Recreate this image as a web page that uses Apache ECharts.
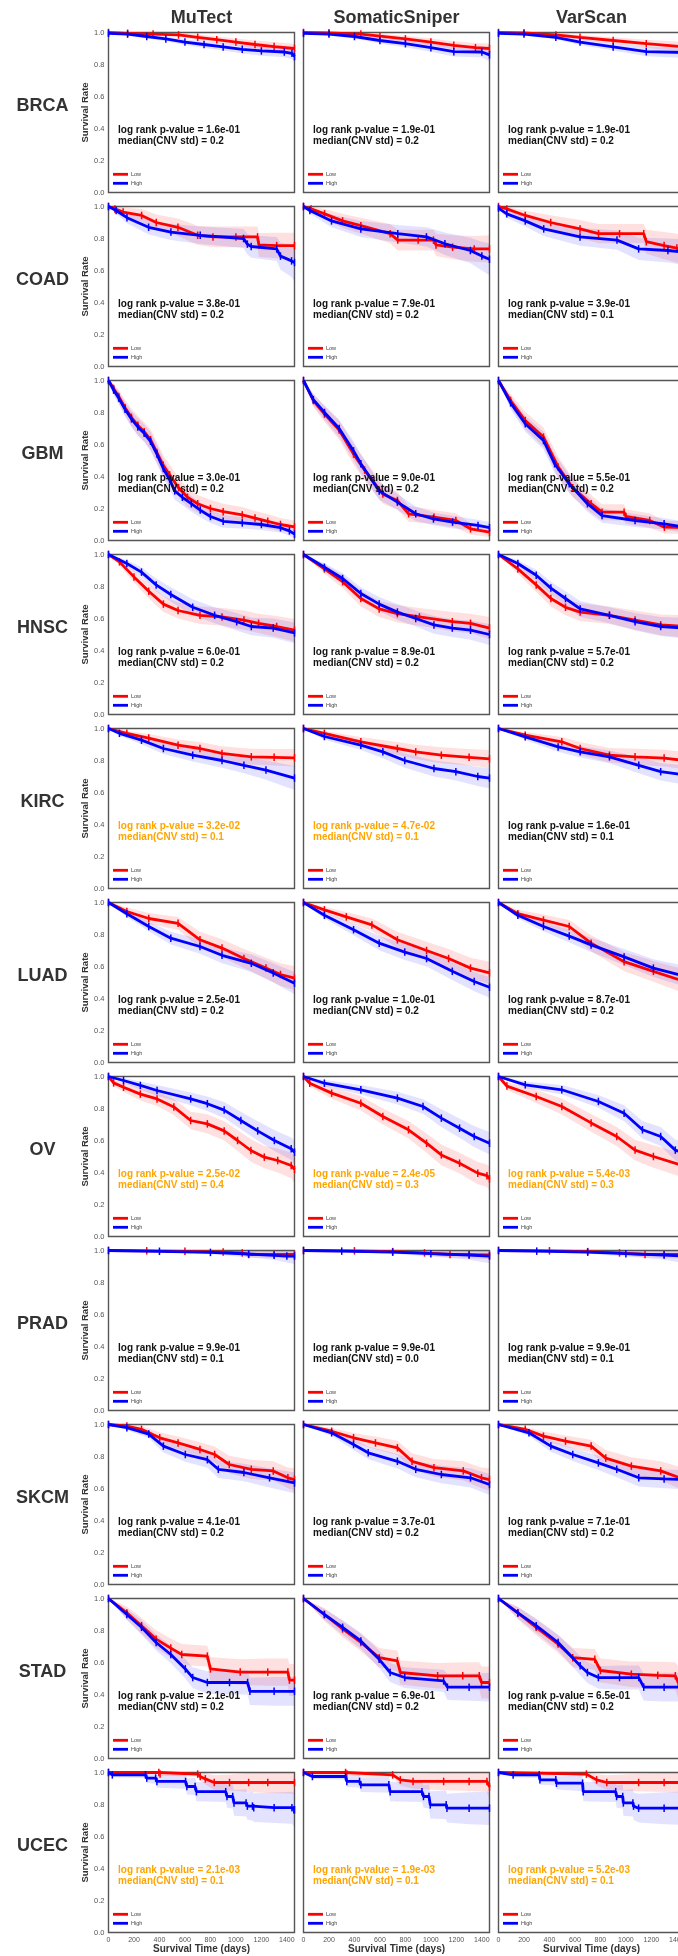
<!DOCTYPE html>
<html>
<head>
<meta charset="utf-8">
<script src="https://cdn.jsdelivr.net/npm/echarts@6/dist/echarts.min.js"></script>
<style>
  body { margin: 0; overflow: hidden; background: #fff; }
  #chart { width: 700px; height: 1956px; }
</style>
</head>
<body>
<div id="chart"></div>
<script>
// each curve point: [time (days), survival, half-width of the confidence band]
const brcaMuTectLow = [[0,1,0],[150,0.995,0.005],[350,0.99,0.01],[550,0.985,0.012],[700,0.97,0.018],[850,0.955,0.02],[1000,0.94,0.022],[1150,0.925,0.025],[1300,0.912,0.028],[1460,0.9,0.03]];
const brcaMuTectHigh = [[0,0.995,0.005],[150,0.99,0.008],[300,0.975,0.012],[450,0.96,0.015],[600,0.94,0.018],[750,0.925,0.02],[900,0.91,0.023],[1050,0.895,0.026],[1200,0.885,0.03],[1380,0.878,0.033],[1440,0.87,0.035],[1460,0.85,0.04]];
const brcaSniperLow = [[0,1,0],[200,0.998,0.004],[450,0.99,0.01],[600,0.977,0.015],[800,0.96,0.02],[1000,0.94,0.022],[1180,0.92,0.026],[1350,0.905,0.03],[1460,0.9,0.032]];
const brcaSniperHigh = [[0,0.995,0.005],[200,0.99,0.008],[400,0.975,0.012],[600,0.95,0.018],[800,0.93,0.022],[1000,0.905,0.026],[1180,0.88,0.03],[1400,0.878,0.034],[1460,0.86,0.04]];
const brcaVarScanLow = [[0,1,0],[200,0.998,0.004],[450,0.985,0.01],[640,0.97,0.015],[900,0.95,0.02],[1160,0.93,0.025],[1460,0.91,0.03]];
const brcaVarScanHigh = [[0,0.995,0.005],[200,0.99,0.008],[450,0.97,0.012],[640,0.94,0.018],[900,0.91,0.023],[1160,0.88,0.028],[1460,0.875,0.035]];

const coadMuTectLow = [[0,1,0],[50,0.985,0.02],[115,0.965,0.03],[260,0.944,0.04],[375,0.9,0.05],[545,0.87,0.055],[700,0.82,0.06],[820,0.81,0.065],[1000,0.81,0.065],[1170,0.81,0.065],[1180,0.76,0.075],[1320,0.756,0.08],[1460,0.756,0.08]];
const coadMuTectHigh = [[0,1,0],[60,0.975,0.02],[145,0.93,0.035],[315,0.87,0.045],[490,0.84,0.05],[720,0.82,0.055],[1060,0.8,0.06],[1090,0.765,0.065],[1120,0.75,0.07],[1320,0.735,0.075],[1350,0.69,0.085],[1437,0.66,0.1],[1460,0.65,0.12]];
const coadSniperLow = [[0,1,0],[60,0.985,0.02],[165,0.954,0.03],[307,0.91,0.045],[450,0.88,0.05],[680,0.83,0.06],[740,0.79,0.065],[900,0.79,0.065],[1020,0.79,0.065],[1040,0.76,0.07],[1170,0.746,0.075],[1340,0.735,0.08],[1460,0.735,0.085]];
const coadSniperHigh = [[0,1,0],[50,0.975,0.02],[220,0.91,0.04],[450,0.86,0.05],[740,0.83,0.055],[965,0.81,0.06],[1110,0.767,0.07],[1310,0.725,0.08],[1400,0.69,0.09],[1460,0.67,0.1]];
const coadVarScanLow = [[0,1,0],[65,0.985,0.015],[210,0.944,0.03],[410,0.9,0.045],[640,0.86,0.055],[785,0.83,0.06],[950,0.83,0.06],[1140,0.83,0.06],[1160,0.78,0.075],[1300,0.756,0.085],[1400,0.74,0.09],[1460,0.71,0.1]];
const coadVarScanHigh = [[0,0.99,0.01],[65,0.954,0.025],[210,0.91,0.035],[355,0.86,0.045],[640,0.81,0.055],[930,0.79,0.06],[1100,0.735,0.07],[1330,0.725,0.075],[1460,0.715,0.08]];

const gbmMuTectLow = [[0,1,0],[40,0.95,0.03],[80,0.9,0.04],[130,0.83,0.05],[180,0.77,0.055],[230,0.72,0.06],[280,0.68,0.06],[330,0.63,0.065],[380,0.55,0.065],[430,0.47,0.065],[480,0.41,0.065],[550,0.33,0.06],[620,0.27,0.06],[700,0.23,0.055],[800,0.2,0.055],[900,0.18,0.05],[1050,0.16,0.05],[1150,0.14,0.045],[1250,0.12,0.045],[1350,0.1,0.04],[1460,0.085,0.04]];
const gbmMuTectHigh = [[0,1,0],[40,0.94,0.03],[80,0.89,0.04],[130,0.82,0.045],[180,0.76,0.05],[230,0.71,0.055],[280,0.67,0.055],[330,0.62,0.06],[380,0.54,0.06],[430,0.45,0.06],[480,0.38,0.06],[520,0.31,0.055],[580,0.27,0.05],[650,0.23,0.05],[720,0.19,0.045],[800,0.15,0.04],[900,0.12,0.04],[1050,0.11,0.035],[1200,0.1,0.035],[1350,0.08,0.03],[1420,0.06,0.03],[1460,0.04,0.03]];
const gbmSniperLow = [[0,1,0],[77,0.875,0.04],[165,0.79,0.05],[280,0.69,0.06],[393,0.54,0.065],[480,0.44,0.065],[623,0.29,0.06],[737,0.25,0.055],[825,0.167,0.05],[1024,0.146,0.045],[1196,0.125,0.045],[1311,0.073,0.035],[1460,0.052,0.03]];
const gbmSniperHigh = [[0,1,0],[77,0.88,0.035],[165,0.8,0.045],[280,0.7,0.055],[393,0.56,0.06],[450,0.48,0.06],[594,0.31,0.055],[737,0.24,0.05],[881,0.167,0.045],[1020,0.135,0.04],[1170,0.115,0.04],[1370,0.094,0.035],[1460,0.08,0.035]];
const gbmVarScanLow = [[0,1,0],[95,0.875,0.04],[210,0.75,0.055],[353,0.646,0.06],[468,0.46,0.065],[583,0.33,0.06],[727,0.23,0.055],[813,0.177,0.05],[986,0.177,0.05],[1000,0.15,0.045],[1187,0.125,0.045],[1302,0.083,0.04],[1460,0.08,0.04]];
const gbmVarScanHigh = [[0,1,0],[95,0.86,0.04],[210,0.73,0.05],[353,0.625,0.055],[440,0.48,0.06],[555,0.354,0.055],[698,0.23,0.05],[813,0.156,0.045],[1072,0.125,0.04],[1300,0.104,0.035],[1460,0.083,0.035]];

const hnscMuTectLow = [[0,1,0],[86,0.954,0.02],[200,0.86,0.035],[316,0.77,0.045],[431,0.69,0.05],[546,0.65,0.05],[718,0.62,0.055],[891,0.61,0.055],[1063,0.59,0.06],[1178,0.57,0.06],[1320,0.55,0.065],[1460,0.527,0.07]];
const hnscMuTectHigh = [[0,1,0],[144,0.944,0.02],[259,0.89,0.03],[374,0.81,0.04],[489,0.75,0.045],[661,0.67,0.05],[833,0.62,0.05],[1006,0.58,0.055],[1121,0.55,0.055],[1293,0.54,0.06],[1460,0.51,0.065]];
const hnscSniperLow = [[0,1,0],[164,0.91,0.03],[307,0.83,0.04],[450,0.725,0.05],[594,0.66,0.05],[737,0.63,0.055],[910,0.61,0.055],[1168,0.58,0.06],[1311,0.57,0.06],[1460,0.54,0.07]];
const hnscSniperHigh = [[0,1,0],[164,0.92,0.025],[307,0.85,0.035],[450,0.756,0.04],[594,0.69,0.045],[737,0.64,0.05],[881,0.6,0.05],[1024,0.56,0.055],[1168,0.54,0.055],[1311,0.527,0.06],[1460,0.5,0.065]];
const hnscVarScanLow = [[0,1,0],[152,0.91,0.03],[296,0.81,0.045],[411,0.725,0.05],[526,0.67,0.05],[641,0.64,0.055],[871,0.62,0.055],[1072,0.59,0.06],[1273,0.56,0.065],[1460,0.55,0.07]];
const hnscVarScanHigh = [[0,1,0],[152,0.944,0.02],[296,0.87,0.035],[411,0.79,0.04],[526,0.725,0.045],[641,0.66,0.05],[871,0.62,0.05],[1072,0.58,0.055],[1273,0.55,0.06],[1460,0.54,0.065]];

const kircMuTectLow = [[0,1,0],[144,0.97,0.015],[316,0.94,0.025],[546,0.896,0.035],[718,0.875,0.04],[891,0.844,0.045],[1121,0.823,0.05],[1300,0.82,0.052],[1460,0.817,0.055]];
const kircMuTectHigh = [[0,1,0],[86,0.97,0.015],[259,0.927,0.025],[431,0.875,0.035],[661,0.833,0.04],[891,0.8,0.045],[1063,0.77,0.05],[1236,0.74,0.06],[1460,0.69,0.075]];
const kircSniperLow = [[0,1,0],[164,0.97,0.015],[450,0.917,0.03],[737,0.875,0.04],[881,0.854,0.045],[1082,0.833,0.05],[1300,0.82,0.052],[1460,0.81,0.055]];
const kircSniperHigh = [[0,1,0],[164,0.95,0.02],[450,0.896,0.03],[623,0.854,0.04],[795,0.8,0.045],[1024,0.75,0.05],[1196,0.73,0.055],[1368,0.7,0.06],[1460,0.69,0.065]];
const kircVarScanLow = [[0,1,0],[210,0.958,0.02],[497,0.917,0.03],[641,0.875,0.04],[871,0.833,0.045],[1072,0.823,0.05],[1300,0.815,0.052],[1460,0.8,0.055]];
const kircVarScanHigh = [[0,1,0],[210,0.948,0.02],[468,0.885,0.03],[641,0.854,0.035],[871,0.823,0.04],[1101,0.77,0.05],[1273,0.73,0.055],[1460,0.71,0.06]];

const luadMuTectLow = [[0,1,0],[144,0.944,0.025],[316,0.9,0.035],[546,0.87,0.04],[718,0.767,0.05],[891,0.715,0.055],[1063,0.65,0.06],[1236,0.59,0.065],[1350,0.55,0.07],[1460,0.527,0.075]];
const luadMuTectHigh = [[0,1,0],[144,0.93,0.02],[316,0.85,0.03],[489,0.777,0.04],[718,0.725,0.045],[891,0.67,0.05],[1121,0.62,0.055],[1293,0.56,0.06],[1460,0.496,0.07]];
const luadSniperLow = [[0,1,0],[164,0.954,0.02],[336,0.91,0.03],[537,0.86,0.04],[737,0.767,0.05],[966,0.7,0.055],[1139,0.65,0.06],[1311,0.59,0.065],[1460,0.56,0.07]];
const luadSniperHigh = [[0,1,0],[164,0.92,0.02],[393,0.83,0.035],[594,0.746,0.045],[795,0.69,0.05],[966,0.65,0.05],[1168,0.57,0.055],[1340,0.506,0.06],[1460,0.47,0.065]];
const luadVarScanLow = [[0,1,0],[152,0.93,0.025],[353,0.89,0.035],[555,0.85,0.04],[727,0.746,0.05],[986,0.63,0.06],[1216,0.57,0.065],[1460,0.506,0.075]];
const luadVarScanHigh = [[0,1,0],[152,0.92,0.02],[353,0.85,0.03],[555,0.79,0.04],[727,0.735,0.045],[986,0.66,0.05],[1216,0.59,0.055],[1460,0.54,0.065]];

const ovMuTectLow = [[0,1,0],[40,0.96,0.02],[118,0.933,0.03],[250,0.89,0.04],[381,0.86,0.045],[513,0.81,0.05],[645,0.725,0.055],[776,0.704,0.06],[908,0.66,0.06],[1013,0.6,0.065],[1118,0.5375,0.07],[1223,0.496,0.07],[1328,0.475,0.075],[1434,0.444,0.08],[1460,0.42,0.085]];
const ovMuTectHigh = [[0,1,0],[118,0.975,0.015],[250,0.944,0.025],[381,0.9125,0.035],[645,0.86,0.04],[776,0.83,0.045],[908,0.79,0.05],[1039,0.725,0.055],[1171,0.66,0.06],[1302,0.6,0.065],[1434,0.548,0.07],[1460,0.527,0.075]];
const ovSniperLow = [[0,1,0],[49,0.958,0.02],[221,0.896,0.035],[450,0.833,0.045],[623,0.75,0.05],[824,0.667,0.055],[966,0.583,0.06],[1082,0.51,0.065],[1225,0.458,0.065],[1368,0.396,0.07],[1440,0.38,0.07],[1460,0.36,0.075]];
const ovSniperHigh = [[0,1,0],[164,0.958,0.02],[450,0.917,0.03],[737,0.865,0.04],[938,0.8125,0.045],[1082,0.74,0.055],[1225,0.677,0.06],[1340,0.625,0.065],[1460,0.583,0.07]];
const ovVarScanLow = [[0,1,0],[66,0.94,0.025],[296,0.875,0.04],[497,0.8125,0.05],[727,0.71,0.055],[928,0.625,0.06],[1072,0.54,0.065],[1216,0.5,0.07],[1460,0.44,0.075]];
const ovVarScanHigh = [[0,1,0],[210,0.948,0.02],[497,0.917,0.03],[784,0.844,0.04],[986,0.77,0.05],[1130,0.667,0.055],[1273,0.625,0.06],[1388,0.54,0.065],[1460,0.52,0.07]];

const pradMuTectLow = [[0,1,0],[300,0.998,0.003],[600,0.995,0.006],[900,0.99,0.01],[1050,0.985,0.015],[1100,0.975,0.02],[1300,0.975,0.022],[1460,0.975,0.025]];
const pradMuTectHigh = [[0,1,0],[400,0.995,0.005],[800,0.988,0.012],[1100,0.978,0.02],[1300,0.97,0.03],[1400,0.965,0.04],[1460,0.965,0.05]];
const pradSniperLow = [[0,1,0],[400,0.998,0.003],[700,0.993,0.007],[950,0.985,0.012],[1150,0.975,0.018],[1300,0.974,0.022],[1460,0.972,0.025]];
const pradSniperHigh = [[0,1,0],[300,0.996,0.004],[700,0.99,0.01],[1000,0.98,0.018],[1300,0.972,0.03],[1460,0.965,0.045]];
const pradVarScanLow = [[0,1,0],[400,0.998,0.003],[700,0.993,0.007],[950,0.985,0.012],[1150,0.975,0.018],[1300,0.975,0.022],[1460,0.975,0.025]];
const pradVarScanHigh = [[0,1,0],[300,0.996,0.004],[700,0.99,0.01],[1000,0.98,0.018],[1300,0.972,0.03],[1460,0.965,0.045]];

const skcmMuTectLow = [[0,1,0],[144,0.99,0.01],[259,0.97,0.02],[402,0.917,0.035],[546,0.885,0.04],[718,0.844,0.045],[833,0.8125,0.05],[948,0.75,0.055],[1121,0.72,0.06],[1293,0.71,0.06],[1408,0.667,0.065],[1460,0.656,0.07]];
const skcmMuTectHigh = [[0,1,0],[144,0.98,0.015],[316,0.94,0.025],[431,0.865,0.04],[603,0.8125,0.045],[776,0.78,0.05],[862,0.72,0.055],[1063,0.7,0.055],[1264,0.667,0.06],[1460,0.635,0.065]];
const skcmSniperLow = [[0,1,0],[221,0.958,0.02],[393,0.917,0.03],[565,0.885,0.04],[737,0.854,0.045],[852,0.77,0.05],[1024,0.73,0.055],[1254,0.71,0.06],[1397,0.667,0.065],[1460,0.656,0.07]];
const skcmSniperHigh = [[0,1,0],[221,0.948,0.02],[393,0.875,0.035],[508,0.823,0.04],[737,0.77,0.045],[881,0.72,0.05],[1082,0.6875,0.055],[1311,0.667,0.06],[1460,0.625,0.065]];
const skcmVarScanLow = [[0,1,0],[210,0.97,0.015],[353,0.927,0.03],[526,0.896,0.035],[727,0.865,0.04],[842,0.79,0.05],[1043,0.74,0.055],[1273,0.71,0.06],[1460,0.656,0.07]];
const skcmVarScanHigh = [[0,1,0],[239,0.948,0.02],[411,0.865,0.035],[583,0.8125,0.04],[784,0.76,0.045],[928,0.72,0.05],[1101,0.667,0.055],[1300,0.66,0.058],[1460,0.656,0.06]];

const stadMuTectLow = [[0,1,0],[144,0.91,0.04],[259,0.83,0.05],[374,0.746,0.055],[489,0.69,0.06],[575,0.65,0.065],[776,0.64,0.065],[800,0.56,0.075],[1034,0.54,0.08],[1250,0.54,0.085],[1408,0.54,0.085],[1420,0.49,0.1],[1460,0.49,0.1]];
const stadMuTectHigh = [[0,1,0],[144,0.9,0.035],[259,0.82,0.045],[374,0.725,0.05],[489,0.65,0.055],[603,0.56,0.06],[661,0.506,0.065],[776,0.475,0.07],[950,0.475,0.075],[1092,0.475,0.075],[1110,0.42,0.085],[1300,0.42,0.09],[1460,0.42,0.09]];
const stadSniperLow = [[0,1,0],[164,0.9,0.04],[307,0.81,0.05],[450,0.725,0.055],[594,0.63,0.06],[737,0.61,0.065],[760,0.5375,0.075],[1053,0.517,0.08],[1250,0.517,0.085],[1380,0.517,0.085],[1397,0.475,0.1],[1460,0.475,0.1]];
const stadSniperHigh = [[0,1,0],[164,0.9,0.035],[307,0.82,0.045],[450,0.735,0.05],[594,0.62,0.055],[680,0.5375,0.06],[795,0.506,0.065],[1100,0.485,0.07],[1130,0.446,0.08],[1300,0.446,0.085],[1460,0.446,0.09]];
const stadVarScanLow = [[0,1,0],[152,0.91,0.04],[296,0.82,0.05],[468,0.715,0.055],[583,0.63,0.06],[756,0.62,0.065],[800,0.55,0.075],[1043,0.527,0.08],[1250,0.52,0.085],[1388,0.517,0.085],[1410,0.475,0.1],[1460,0.475,0.1]];
const stadVarScanHigh = [[0,1,0],[152,0.91,0.035],[296,0.83,0.045],[468,0.725,0.05],[641,0.58,0.06],[698,0.5375,0.065],[784,0.506,0.07],[950,0.506,0.075],[1101,0.506,0.075],[1140,0.446,0.085],[1300,0.446,0.09],[1460,0.446,0.09]];

const ucecMuTectLow = [[0,1,0],[395,1,0.005],[405,0.99,0.01],[700,0.99,0.015],[720,0.975,0.025],[760,0.96,0.035],[830,0.9375,0.045],[950,0.9375,0.05],[1100,0.9375,0.06],[1250,0.9375,0.065],[1460,0.9375,0.07]];
const ucecMuTectHigh = [[0,1,0],[30,0.985,0.015],[290,0.985,0.02],[300,0.965,0.03],[370,0.965,0.035],[380,0.944,0.04],[605,0.944,0.045],[615,0.9125,0.05],[680,0.9125,0.055],[690,0.88,0.06],[920,0.88,0.065],[930,0.85,0.07],[975,0.85,0.075],[985,0.81,0.08],[1080,0.81,0.085],[1090,0.79,0.085],[1130,0.79,0.09],[1140,0.78,0.09],[1300,0.78,0.095],[1440,0.78,0.1],[1455,0.767,0.105],[1460,0.767,0.105]];
const ucecSniperLow = [[0,1,0],[330,1,0.005],[340,0.99,0.01],[700,0.985,0.015],[760,0.954,0.035],[860,0.944,0.045],[1100,0.944,0.055],[1300,0.944,0.06],[1440,0.944,0.065],[1460,0.91,0.08]];
const ucecSniperHigh = [[0,1,0],[70,0.975,0.015],[330,0.975,0.02],[340,0.944,0.035],[440,0.944,0.04],[450,0.923,0.045],[670,0.923,0.05],[680,0.88,0.06],[930,0.88,0.065],[942,0.85,0.07],[985,0.85,0.075],[995,0.798,0.085],[1120,0.798,0.09],[1126,0.777,0.09],[1300,0.777,0.1],[1460,0.777,0.105]];
const ucecVarScanLow = [[0,1,0],[690,0.99,0.01],[770,0.954,0.035],[850,0.9375,0.045],[1100,0.9375,0.055],[1300,0.9375,0.06],[1460,0.9375,0.065]];
const ucecVarScanHigh = [[0,1,0],[115,0.985,0.015],[320,0.985,0.02],[325,0.954,0.03],[450,0.954,0.035],[455,0.933,0.04],[660,0.933,0.05],[665,0.88,0.06],[920,0.88,0.065],[927,0.85,0.07],[975,0.85,0.075],[980,0.81,0.08],[1055,0.81,0.085],[1060,0.79,0.085],[1100,0.777,0.09],[1300,0.777,0.1],[1460,0.777,0.105]];

const cancers = ['BRCA', 'COAD', 'GBM', 'HNSC', 'KIRC', 'LUAD', 'OV', 'PRAD', 'SKCM', 'STAD', 'UCEC'];
const callers = ['MuTect', 'SomaticSniper', 'VarScan'];
const pValues = [
  ['1.6e-01', '1.9e-01', '1.9e-01'],
  ['3.8e-01', '7.9e-01', '3.9e-01'],
  ['3.0e-01', '9.0e-01', '5.5e-01'],
  ['6.0e-01', '8.9e-01', '5.7e-01'],
  ['3.2e-02', '4.7e-02', '1.6e-01'],
  ['2.5e-01', '1.0e-01', '8.7e-01'],
  ['2.5e-02', '2.4e-05', '5.4e-03'],
  ['9.9e-01', '9.9e-01', '9.9e-01'],
  ['4.1e-01', '3.7e-01', '7.1e-01'],
  ['2.1e-01', '6.9e-01', '6.5e-01'],
  ['2.1e-03', '1.9e-03', '5.2e-03']
];
const cnvStd = [
  ['0.2', '0.2', '0.2'],
  ['0.2', '0.2', '0.1'],
  ['0.2', '0.2', '0.2'],
  ['0.2', '0.2', '0.2'],
  ['0.1', '0.1', '0.1'],
  ['0.2', '0.2', '0.2'],
  ['0.4', '0.3', '0.3'],
  ['0.1', '0.0', '0.1'],
  ['0.2', '0.2', '0.2'],
  ['0.2', '0.2', '0.2'],
  ['0.1', '0.1', '0.1']
];
const groupNames = ['Low', 'High'];
const xTicks = [0, 200, 400, 600, 800, 1000, 1200, 1400];
const yTicks = [0, 0.2, 0.4, 0.6, 0.8, 1.0];

const curveTable = [
  [[brcaMuTectLow, brcaMuTectHigh], [brcaSniperLow, brcaSniperHigh], [brcaVarScanLow, brcaVarScanHigh]],
  [[coadMuTectLow, coadMuTectHigh], [coadSniperLow, coadSniperHigh], [coadVarScanLow, coadVarScanHigh]],
  [[gbmMuTectLow, gbmMuTectHigh], [gbmSniperLow, gbmSniperHigh], [gbmVarScanLow, gbmVarScanHigh]],
  [[hnscMuTectLow, hnscMuTectHigh], [hnscSniperLow, hnscSniperHigh], [hnscVarScanLow, hnscVarScanHigh]],
  [[kircMuTectLow, kircMuTectHigh], [kircSniperLow, kircSniperHigh], [kircVarScanLow, kircVarScanHigh]],
  [[luadMuTectLow, luadMuTectHigh], [luadSniperLow, luadSniperHigh], [luadVarScanLow, luadVarScanHigh]],
  [[ovMuTectLow, ovMuTectHigh], [ovSniperLow, ovSniperHigh], [ovVarScanLow, ovVarScanHigh]],
  [[pradMuTectLow, pradMuTectHigh], [pradSniperLow, pradSniperHigh], [pradVarScanLow, pradVarScanHigh]],
  [[skcmMuTectLow, skcmMuTectHigh], [skcmSniperLow, skcmSniperHigh], [skcmVarScanLow, skcmVarScanHigh]],
  [[stadMuTectLow, stadMuTectHigh], [stadSniperLow, stadSniperHigh], [stadVarScanLow, stadVarScanHigh]],
  [[ucecMuTectLow, ucecMuTectHigh], [ucecSniperLow, ucecSniperHigh], [ucecVarScanLow, ucecVarScanHigh]]
];

const FONT = '"Liberation Sans", Arial, Helvetica, sans-serif';
const lineColors = ['#ff0000', '#0000ff'];
const bandColors = ['rgba(255,0,0,0.12)', 'rgba(0,0,255,0.11)'];
const colLeft = [108.5, 303.5, 498.5];
const panelW = 186, panelH = 160, rowTop0 = 32.5, rowStep = 174;
const XMAX = 1460;

const chart = echarts.init(document.getElementById('chart'), null, { renderer: 'canvas' });

const grids = [], xAxes = [], yAxes = [], series = [], graphics = [];
const lastRow = cancers.length - 1;

const bandSeries = (pts, color, gi) => ({
  type: 'custom',
  xAxisIndex: gi,
  yAxisIndex: gi,
  silent: true,
  clip: true,
  z: 1,
  data: [[pts[0][0], pts[0][1]]],
  renderItem: (params, api) => {
    const upper = pts.map(p => api.coord([p[0], Math.min(1, p[1] + p[2])]));
    const lower = pts.map(p => api.coord([p[0], Math.max(0, p[1] - p[2])])).reverse();
    return {
      type: 'polygon',
      shape: { points: upper.concat(lower) },
      style: { fill: color }
    };
  }
});

const textEl = (x, y, text, font, fill, align, vAlign, extra) => ({
  type: 'text',
  x, y,
  silent: true,
  z: 10,
  style: Object.assign({
    text, font, fill,
    align, textAlign: align,
    verticalAlign: vAlign, textVerticalAlign: vAlign
  }, extra || {})
});

cancers.forEach((cancer, r) => {
  const top = rowTop0 + r * rowStep;
  graphics.push(textEl(42.5, top + 74, cancer, 'bold 18px ' + FONT, '#333', 'center', 'middle'));

  callers.forEach((caller, c) => {
    const gi = grids.length;
    const left = colLeft[c];
    grids.push({
      left, top, width: panelW, height: panelH,
      show: true, borderColor: '#555', borderWidth: 1.4, backgroundColor: '#fff'
    });
    xAxes.push({
      type: 'value', gridIndex: gi, min: 0, max: XMAX, interval: 200,
      axisLine: { show: false }, axisTick: { show: false }, splitLine: { show: false },
      axisLabel: {
        show: r === lastRow, fontSize: 7, color: '#555', margin: 4, fontFamily: FONT,
        formatter: v => (xTicks.includes(v) ? String(v) : '')
      },
      name: r === lastRow ? 'Survival Time (days)' : '',
      nameLocation: 'middle', nameGap: 12,
      nameTextStyle: { fontSize: 10, fontWeight: 'bold', color: '#333', fontFamily: FONT }
    });
    yAxes.push({
      type: 'value', gridIndex: gi, min: 0, max: 1, interval: 0.2,
      axisLine: { show: false }, axisTick: { show: false }, splitLine: { show: false },
      axisLabel: {
        show: c === 0, fontSize: 7.5, color: '#555', margin: 4, fontFamily: FONT,
        formatter: v => (yTicks.some(t => Math.abs(t - v) < 1e-9) ? v.toFixed(1) : '')
      },
      name: c === 0 ? 'Survival Rate' : '',
      nameLocation: 'middle', nameGap: 16,
      nameTextStyle: { fontSize: 9.5, fontWeight: 'bold', color: '#333', fontFamily: FONT }
    });

    const pair = curveTable[r][c];
    pair.forEach((pts, k) => series.push(bandSeries(pts, bandColors[k], gi)));
    pair.forEach((pts, k) => {
      series.push({
        type: 'line',
        name: groupNames[k],
        xAxisIndex: gi, yAxisIndex: gi,
        data: pts.map(p => [p[0], p[1]]),
        showSymbol: true,
        symbol: 'rect',
        symbolSize: [1.5, 7.5],
        itemStyle: { color: lineColors[k] },
        lineStyle: { color: lineColors[k], width: 2.8 },
        clip: true,
        silent: true,
        z: 3 + k
      });
    });

    // annotation
    const sig = parseFloat(pValues[r][c]) < 0.05;
    graphics.push(textEl(left + 9.5, top + 92.5,
      'log rank p-value = ' + pValues[r][c] + '\nmedian(CNV std) = ' + cnvStd[r][c],
      'bold 10px ' + FONT, sig ? '#ffa500' : '#111', 'left', 'top', { lineHeight: 11 }));

    // legend
    groupNames.forEach((g, k) => {
      const ly = top + 141.8 + k * 9;
      graphics.push({
        type: 'line', silent: true, z: 10,
        shape: { x1: left + 4.5, y1: ly, x2: left + 19.5, y2: ly },
        style: { stroke: lineColors[k], lineWidth: 2.8 }
      });
      graphics.push(textEl(left + 22.5, ly, g, '5.5px ' + FONT, '#444', 'left', 'middle'));
    });
  });
});

callers.forEach((caller, c) => {
  graphics.push(textEl(colLeft[c] + panelW / 2, 18.5, caller, 'bold 18px ' + FONT, '#333', 'center', 'middle'));
});

chart.setOption({
  animation: false,
  backgroundColor: '#fff',
  grid: grids,
  xAxis: xAxes,
  yAxis: yAxes,
  series,
  graphic: { elements: graphics }
});
</script>
</body>
</html>
